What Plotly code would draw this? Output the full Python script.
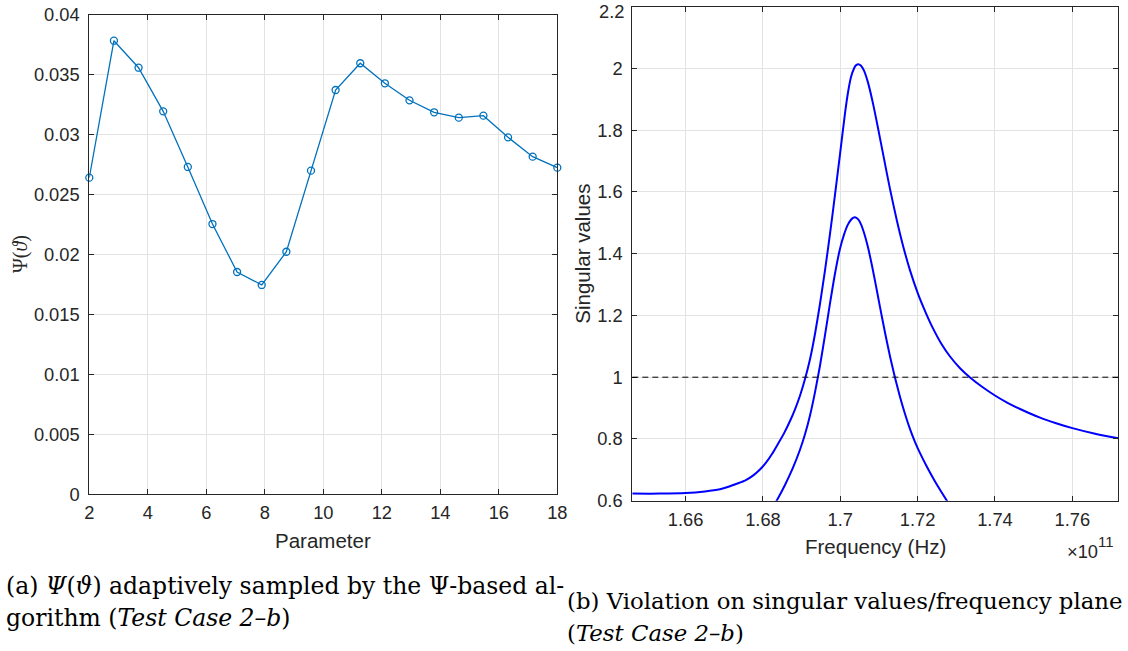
import plotly.graph_objects as go

# ---------------- data: left panel ----------------
PARAM = [2.0, 2.842, 3.684, 4.526, 5.368, 6.211, 7.053, 7.895, 8.737, 9.579,
         10.421, 11.263, 12.105, 12.947, 13.789, 14.632, 15.474, 16.316, 17.158, 18.0]
PSI = [0.02641, 0.03783, 0.03558, 0.03194, 0.0273, 0.02254, 0.01854, 0.01746, 0.02023, 0.02699,
       0.03372, 0.03595, 0.03428, 0.03286, 0.03186, 0.03141, 0.03158, 0.02977, 0.02816, 0.02724]
LEFT_XTICKS = [2, 4, 6, 8, 10, 12, 14, 16, 18]
LEFT_YTICKS = [0, 0.005, 0.01, 0.015, 0.02, 0.025, 0.03, 0.035, 0.04]
LEFT_YTICKTEXT = ["0", "0.005", "0.01", "0.015", "0.02", "0.025", "0.03", "0.035", "0.04"]

# ---------------- data: right panel (frequency in units of 1e11 Hz) ----------------
FREQ_SV1 = [1.64618, 1.65335, 1.66000, 1.66499, 1.66887, 1.67107, 1.67320, 1.67534, 1.67749, 1.67922,
            1.68078, 1.68233, 1.68388, 1.68543, 1.68699, 1.68828, 1.68957, 1.69087, 1.69216, 1.69345,
            1.69475, 1.69604, 1.69733, 1.69863, 1.69992, 1.70122, 1.70199, 1.70277, 1.70354, 1.70406,
            1.70466, 1.70536, 1.70613, 1.70717, 1.70846, 1.70975, 1.71131, 1.71286, 1.71467, 1.71622,
            1.71803, 1.72010, 1.72217, 1.72398, 1.72605, 1.72838, 1.73097, 1.73356, 1.73666, 1.74010,
            1.74313, 1.74649, 1.75167, 1.75581, 1.76003, 1.76590, 1.77193]
SV1 = [0.623, 0.623, 0.625, 0.630, 0.637, 0.645, 0.655, 0.665, 0.682, 0.701,
       0.723, 0.751, 0.784, 0.818, 0.858, 0.896, 0.940, 0.994, 1.058, 1.140,
       1.238, 1.346, 1.464, 1.591, 1.722, 1.855, 1.922, 1.972, 2.000, 2.010,
       2.014, 2.009, 1.993, 1.954, 1.886, 1.807, 1.707, 1.609, 1.505, 1.426,
       1.346, 1.270, 1.207, 1.158, 1.110, 1.067, 1.029, 0.999, 0.969, 0.940,
       0.918, 0.897, 0.869, 0.851, 0.835, 0.817, 0.802]
FREQ_SV2 = [1.68233, 1.68354, 1.68569, 1.68776, 1.68957, 1.69087, 1.69216, 1.69345, 1.69475, 1.69604,
            1.69733, 1.69863, 1.69992, 1.70096, 1.70199, 1.70277, 1.70329, 1.70380, 1.70458, 1.70536,
            1.70613, 1.70717, 1.70820, 1.70924, 1.71027, 1.71157, 1.71286, 1.71415, 1.71545, 1.71674,
            1.71803, 1.71933, 1.72062, 1.72243, 1.72450, 1.72787, 1.72916]
SV2 = [0.574, 0.600, 0.651, 0.707, 0.765, 0.815, 0.876, 0.951, 1.038, 1.136,
       1.239, 1.336, 1.416, 1.462, 1.495, 1.510, 1.516, 1.518, 1.512, 1.495,
       1.468, 1.420, 1.361, 1.295, 1.227, 1.144, 1.067, 0.998, 0.936, 0.881,
       0.832, 0.790, 0.754, 0.709, 0.662, 0.594, 0.570]
THRESHOLD = 1.0
RIGHT_XRANGE = [1.6462, 1.7719]
RIGHT_XTICKS = [1.66, 1.68, 1.70, 1.72, 1.74, 1.76]
RIGHT_XTICKTEXT = ["1.66", "1.68", "1.7", "1.72", "1.74", "1.76"]
RIGHT_YTICKS = [0.6, 0.8, 1.0, 1.2, 1.4, 1.6, 1.8, 2.0, 2.2]
RIGHT_YTICKTEXT = ["0.6", "0.8", "1", "1.2", "1.4", "1.6", "1.8", "2", "2.2"]
EXPONENT_BASE = "×10"
EXPONENT = "11"

W, H = 1128, 651
AX = "#262626"
GRID = "#e3e3e3"
SANS = "Liberation Sans, Arial, Helvetica, sans-serif"
SERIF = "DejaVu Serif, Liberation Serif, serif"
TICKFONT = dict(family=SANS, size=18.3, color=AX)


def px_x(p):
    return p / W


def px_y(p):
    return 1 - p / H


fig = go.Figure()

fig.add_trace(go.Scatter(
    x=PARAM, y=PSI, mode="lines+markers", xaxis="x", yaxis="y",
    line=dict(color="#0072BD", width=1.3),
    marker=dict(symbol="circle-open", size=7, color="#0072BD", line=dict(width=1.3)),
    showlegend=False, cliponaxis=False,
))
fig.add_trace(go.Scatter(
    x=FREQ_SV1, y=SV1, mode="lines", xaxis="x2", yaxis="y2",
    line=dict(color="#0000FF", width=2, shape="spline", smoothing=0.6),
    showlegend=False,
))
fig.add_trace(go.Scatter(
    x=FREQ_SV2, y=SV2, mode="lines", xaxis="x2", yaxis="y2",
    line=dict(color="#0000FF", width=2, shape="spline", smoothing=0.6),
    showlegend=False,
))
fig.add_shape(type="line", xref="x2 domain", yref="y2", x0=0, x1=1, y0=THRESHOLD, y1=THRESHOLD,
              line=dict(color="black", width=1, dash="6px,4px"), layer="above")

axis_common = dict(
    showline=True, linecolor=AX, linewidth=1, mirror="ticks",
    ticks="inside", ticklen=5, tickwidth=1, tickcolor=AX,
    showgrid=True, gridcolor=GRID, gridwidth=1, zeroline=False,
    tickfont=TICKFONT, automargin=False,
)

# the topmost right-hand tick label sits at the very top edge of the page:
# draw it as an annotation nudged slightly down so it is not clipped
right_ytext_axis = RIGHT_YTICKTEXT[:-1] + [" "]

fig.update_layout(
    width=W, height=H, autosize=False,
    margin=dict(l=0, r=0, t=0, b=0),
    paper_bgcolor="white", plot_bgcolor="white",
    xaxis=dict(domain=[px_x(89.3), px_x(557.3)], range=[2, 18], tickvals=LEFT_XTICKS,
               anchor="y", ticklabelstandoff=2, **axis_common),
    yaxis=dict(domain=[px_y(494.3), px_y(14.7)], range=[0, 0.04], tickvals=LEFT_YTICKS,
               ticktext=LEFT_YTICKTEXT, anchor="x", ticklabelstandoff=5, **axis_common),
    xaxis2=dict(domain=[px_x(632.3), px_x(1118.3)], range=RIGHT_XRANGE, tickvals=RIGHT_XTICKS,
                ticktext=RIGHT_XTICKTEXT, anchor="y2", ticklabelstandoff=2, **axis_common),
    yaxis2=dict(domain=[px_y(500.7), px_y(6.7)], range=[0.6, 2.2], tickvals=RIGHT_YTICKS,
                ticktext=right_ytext_axis, anchor="x2", ticklabelstandoff=5, **axis_common),
)

ann = []
ann.append(dict(text=RIGHT_YTICKTEXT[-1], x=px_x(626), xref="paper", y=RIGHT_YTICKS[-1], yref="y2",
                yshift=-5, showarrow=False, font=TICKFONT, xanchor="right", yanchor="middle"))
# axis titles
ann.append(dict(text="Parameter", x=px_x(323.3), y=px_y(540), xref="paper", yref="paper",
                showarrow=False, font=dict(family=SANS, size=20.5, color=AX), xanchor="center", yanchor="middle"))
ann.append(dict(text="Ψ(<i>ϑ</i>)", x=px_x(21), y=px_y(254), xref="paper", yref="paper", textangle=-90,
                showarrow=False, font=dict(family="Liberation Serif, serif", size=20, color=AX),
                xanchor="center", yanchor="middle"))
ann.append(dict(text="Singular values", x=px_x(583), y=px_y(253.7), xref="paper", yref="paper", textangle=-90,
                showarrow=False, font=dict(family=SANS, size=20.5, color=AX), xanchor="center", yanchor="middle"))
ann.append(dict(text="Frequency (Hz)", x=px_x(875.3), y=px_y(546), xref="paper", yref="paper",
                showarrow=False, font=dict(family=SANS, size=20.5, color=AX), xanchor="center", yanchor="middle"))
# axis exponent (×10^11)
ann.append(dict(text=EXPONENT_BASE, x=px_x(1100), y=px_y(551), xref="paper", yref="paper",
                showarrow=False, font=dict(family=SANS, size=18.3, color=AX), xanchor="right", yanchor="middle"))
ann.append(dict(text=EXPONENT, x=px_x(1096), y=px_y(541), xref="paper", yref="paper",
                showarrow=False, font=dict(family=SANS, size=15, color=AX), xanchor="left", yanchor="middle"))

# captions
captions = [
    ("(a) <i>Ψ</i>(<i>ϑ</i>) adaptively sampled by the Ψ-based al-", 4, 586, 23.5),
    ("gorithm (<i>Test Case 2–b</i>)", 4, 618, 23.5),
    ("(b) Violation on singular values/frequency plane", 565, 601, 22.8),
    ("(<i>Test Case 2–b</i>)", 565, 633, 22.8),
]
for t, x, y, s in captions:
    ann.append(dict(text=t, x=px_x(x), y=px_y(y), xref="paper", yref="paper", showarrow=False,
                    font=dict(family=SERIF, size=s, color="black"), xanchor="left", yanchor="middle"))

fig.update_layout(annotations=ann)
fig.write_html("out.html", config={"displayModeBar": False},
               post_script="document.body.style.margin='0';")
